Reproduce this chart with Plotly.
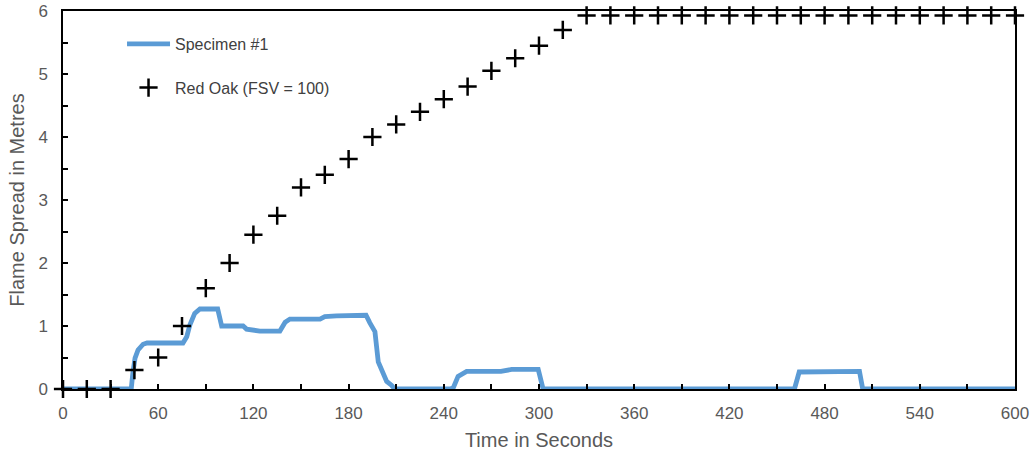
import plotly.graph_objects as go

# Specimen #1 flame spread (time in s, distance in m)
spec_t = [0, 43, 44, 45.4, 47.3, 50.5, 53, 75.6, 78, 80, 83, 86.3, 97.5, 100,
          113.5, 115.7, 124, 136.7, 140, 143, 162, 165, 172.4, 191, 193.4,
          196.6, 198.7, 200.8, 204, 207, 209, 244, 246, 249, 254.4, 276, 282.7,
          299.5, 302.6, 461, 464, 502, 504, 600]
spec_v = [0, 0, 0.25, 0.49, 0.62, 0.71, 0.73, 0.73, 0.83, 1.02, 1.2, 1.27, 1.27, 1.0,
          1.0, 0.95, 0.92, 0.92, 1.06, 1.11, 1.11, 1.15, 1.16, 1.17, 1.05,
          0.91, 0.43, 0.3, 0.12, 0.06, 0, 0, 0.02, 0.2, 0.28, 0.28, 0.31,
          0.31, 0, 0, 0.27, 0.28, 0, 0]

# Red Oak reference (FSV = 100)
oak_t = list(range(0, 601, 15))
oak_v = [0, 0, 0, 0.3, 0.5, 1.0, 1.6, 2.0, 2.45, 2.75, 3.2, 3.4, 3.65, 4.0, 4.2,
         4.4, 4.6, 4.8, 5.05, 5.25, 5.45, 5.7] + [5.93] * 19

x_ticks = list(range(0, 601, 60))
y_ticks = [0, 1, 2, 3, 4, 5, 6]

GRAY = "#595959"
FONT = "Liberation Sans, Arial, sans-serif"

fig = go.Figure()
fig.add_trace(go.Scatter(
    x=spec_t, y=spec_v, mode="lines", name="Specimen #1",
    line=dict(color="#5B9BD5", width=4.8), legendgroup="a", cliponaxis=False))
fig.add_trace(go.Scatter(
    x=oak_t, y=oak_v, mode="markers", name="Red Oak (FSV = 100)",
    marker=dict(symbol="cross-thin", size=13, color="black",
                line=dict(color="black", width=2.5)),
    legendgroup="b", cliponaxis=False))

fig.update_layout(
    width=1033, height=456,
    margin=dict(l=63, r=18, t=11, b=67),
    paper_bgcolor="white", plot_bgcolor="white",
    font=dict(family=FONT, color=GRAY, size=17),
    showlegend=True,
    legend=dict(x=0.062, y=0.958, xanchor="left", yanchor="top",
                bgcolor="rgba(0,0,0,0)", font=dict(size=16, color="#404040"),
                tracegroupgap=20, traceorder="grouped", itemwidth=43),
    xaxis=dict(range=[0, 600], tickvals=x_ticks, ticktext=[str(v) for v in x_ticks],
               showline=True, linecolor="black", linewidth=1.5, mirror=True,
               ticks="inside", ticklen=5, tickcolor="black", tickwidth=1.5,
               ticklabelstandoff=8, ticklabeloverflow="allow",
               minor=dict(dtick=30, tick0=0, ticks="inside", ticklen=5, tickcolor="black", tickwidth=1.5),
               showgrid=False, zeroline=False, automargin=False,
               title=dict(text="Time in Seconds", font=dict(size=20, color=GRAY), standoff=11)),
    yaxis=dict(range=[0, 6], tickvals=y_ticks, ticktext=[str(v) for v in y_ticks],
               showline=True, linecolor="black", linewidth=1.5, mirror=True,
               ticks="inside", ticklen=5, tickcolor="black", tickwidth=1.5,
               ticklabelstandoff=10, ticklabeloverflow="allow",
               minor=dict(dtick=0.5, tick0=0, ticks="inside", ticklen=5, tickcolor="black", tickwidth=1.5),
               showgrid=False, zeroline=False, automargin=False,
               title=dict(text="Flame Spread in Metres", font=dict(size=20, color=GRAY), standoff=8)),
)

fig.write_html("out.html", config={"displayModeBar": False},
               post_script="document.body.style.margin='0px';")
